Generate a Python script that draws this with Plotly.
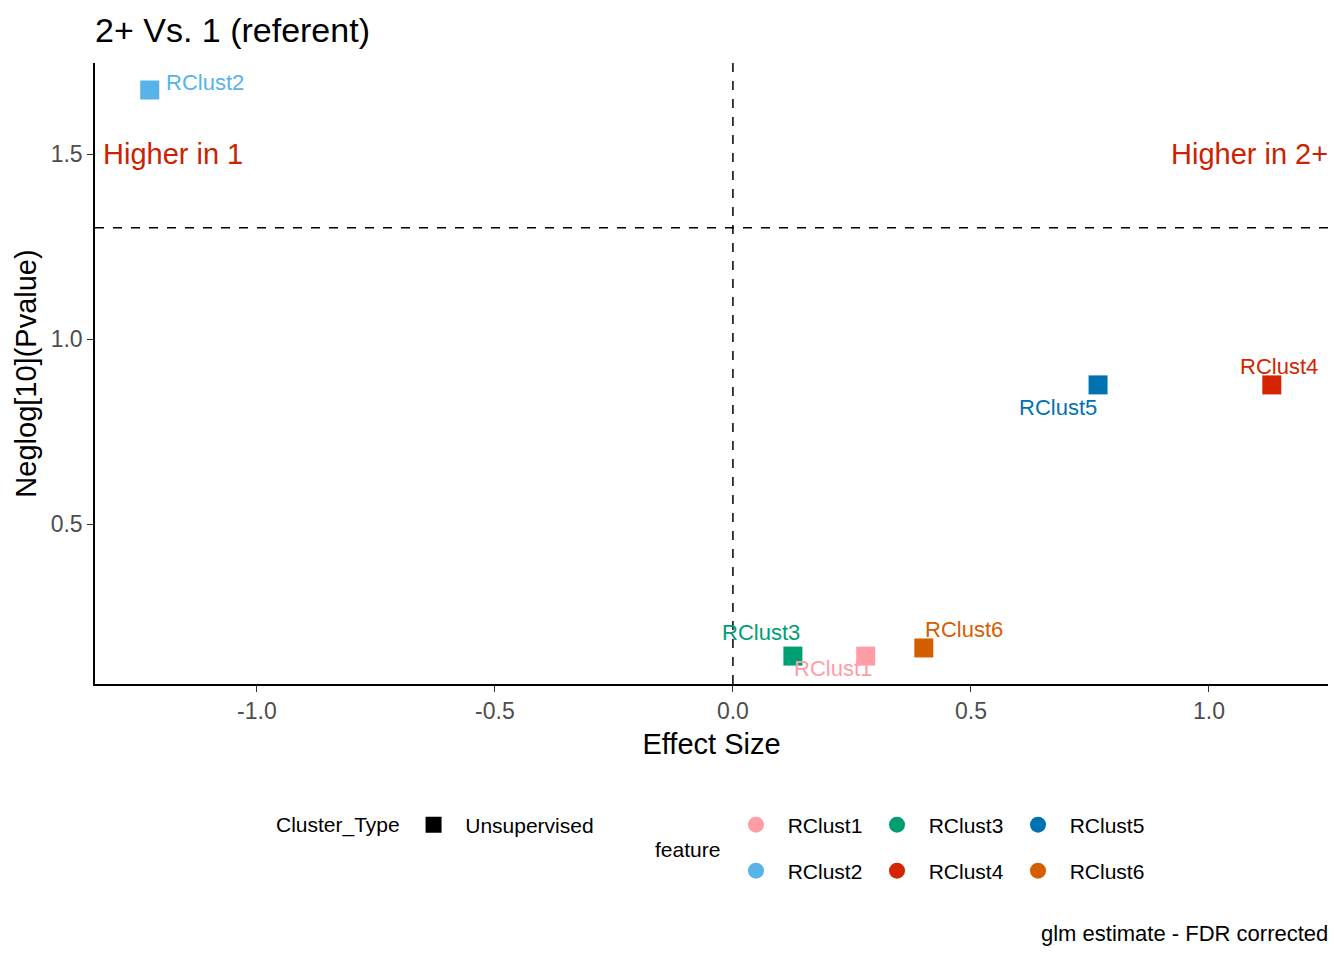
import plotly.graph_objects as go

# data
features = ["RClust1", "RClust2", "RClust3", "RClust4", "RClust5", "RClust6"]
effect_size = [0.279, -1.225, 0.126, 1.132, 0.767, 0.401]
neglog_p = [0.143, 1.673, 0.143, 0.876, 0.876, 0.165]
colors = ["#FF9DA7", "#56B4E9", "#009E73", "#D62300", "#0072B2", "#D55E00"]
cluster_type = "Unsupervised"
sig_line = 1.30103  # -log10(0.05)
x_ticks = [-1, -0.5, 0, 0.5, 1]
x_ticktext = ["-1.0", "-0.5", "0.0", "0.5", "1.0"]
y_ticks = [0.5, 1.0, 1.5]
y_ticktext = ["0.5", "1.0", "1.5"]

# label nudges in px (ggrepel-ish placement)
label_shift = {
    "RClust1": (-33, -12),
    "RClust2": (55, 8),
    "RClust3": (-32, 24),
    "RClust4": (7, 18),
    "RClust5": (-40, -23),
    "RClust6": (40, 18),
}

FONT = "Liberation Sans, Arial, sans-serif"
PAD = "\u00a0\u00a0"

fig = go.Figure()

for f, x, y, c in zip(features, effect_size, neglog_p, colors):
    fig.add_trace(go.Scatter(
        x=[x], y=[y], mode="markers", name=f,
        marker=dict(symbol="square", size=19, color=c),
        showlegend=False, hoverinfo="x+y+name"))
    dx, dy = label_shift[f]
    fig.add_annotation(x=x, y=y, text=f, showarrow=False, xshift=dx, yshift=dy,
                       font=dict(family=FONT, size=22, color=c))

# legend: Cluster_Type
fig.add_trace(go.Scatter(
    x=[None], y=[None], mode="markers", name=PAD + cluster_type,
    marker=dict(symbol="square", size=16, color="black"),
    legend="legend"))

# legend: feature (two rows, column order like ggplot)
rows = [["RClust1", "RClust3", "RClust5"], ["RClust2", "RClust4", "RClust6"]]
for legend_id, row in zip(["legend2", "legend3"], rows):
    for f in row:
        c = colors[features.index(f)]
        fig.add_trace(go.Scatter(
            x=[None], y=[None], mode="markers", name=PAD + f,
            marker=dict(symbol="circle", size=16, color=c),
            legend=legend_id))

fig.add_hline(y=sig_line, line=dict(color="black", width=1.5, dash="dash"))
fig.add_vline(x=0, line=dict(color="black", width=1.5, dash="dash"))

fig.add_annotation(x=0, xref="paper", xanchor="left", xshift=6, y=1.5, text="Higher in 1",
                   showarrow=False, font=dict(family=FONT, size=29, color="#CC2200"))
fig.add_annotation(x=1, xref="paper", xanchor="right", xshift=2, y=1.5, text="Higher in 2+",
                   showarrow=False, font=dict(family=FONT, size=29, color="#CC2200"))

fig.add_annotation(x=(653 - 95) / 1233, xref="paper", xanchor="left",
                   y=(684 - 849) / 621, yref="paper", yanchor="middle",
                   text="feature", showarrow=False,
                   font=dict(family=FONT, size=21, color="black"))
fig.add_annotation(x=1, xref="paper", xanchor="right", xshift=2,
                   y=(684 - 933) / 621, yref="paper", yanchor="middle",
                   text="glm estimate - FDR corrected", showarrow=False,
                   font=dict(family=FONT, size=22, color="black"))

legend_common = dict(orientation="h", bgcolor="rgba(0,0,0,0)",
                     font=dict(family=FONT, size=21, color="black"),
                     yanchor="middle", xanchor="left", itemclick=False,
                     itemdoubleclick=False)

fig.update_layout(
    width=1344, height=960,
    margin=dict(l=95, r=16, t=63, b=276),
    plot_bgcolor="white", paper_bgcolor="white",
    font=dict(family=FONT),
    title=dict(text="2+ Vs. 1 (referent)", x=95 / 1344, xanchor="left",
               y=1 - 30 / 960, yanchor="middle",
               font=dict(family=FONT, size=34, color="black")),
    xaxis=dict(range=[-1.340, 1.250], tickvals=x_ticks, ticktext=x_ticktext,
               showgrid=False, zeroline=False, showline=True, linecolor="black", linewidth=1.5,
               ticks="outside", ticklen=6, tickcolor="#333333", tickwidth=1.2,
               tickfont=dict(family=FONT, size=23, color="#4D4D4D"),
               title=dict(text="Effect Size", standoff=10,
                          font=dict(family=FONT, size=29, color="black"))),
    yaxis=dict(range=[0.0676, 1.746], tickvals=y_ticks, ticktext=y_ticktext,
               showgrid=False, zeroline=False, showline=True, linecolor="black", linewidth=1.5,
               ticks="outside", ticklen=6, tickcolor="#333333", tickwidth=1.2,
               tickfont=dict(family=FONT, size=23, color="#4D4D4D"),
               title=dict(text="Neglog[10](Pvalue)", standoff=6,
                          font=dict(family=FONT, size=29, color="black"))),
    legend=dict(legend_common, x=(274 - 95) / 1233, y=(684 - 825) / 621,
                title=dict(text="Cluster_Type ", side="left",
                           font=dict(family=FONT, size=21, color="black"))),
    legend2=dict(legend_common, x=(736 - 95) / 1233, y=(684 - 825) / 621, entrywidth=96),
    legend3=dict(legend_common, x=(736 - 95) / 1233, y=(684 - 871) / 621, entrywidth=96),
)

fig.write_html("out.html", config={"displayModeBar": False},
               post_script="document.body.style.margin='0';")
